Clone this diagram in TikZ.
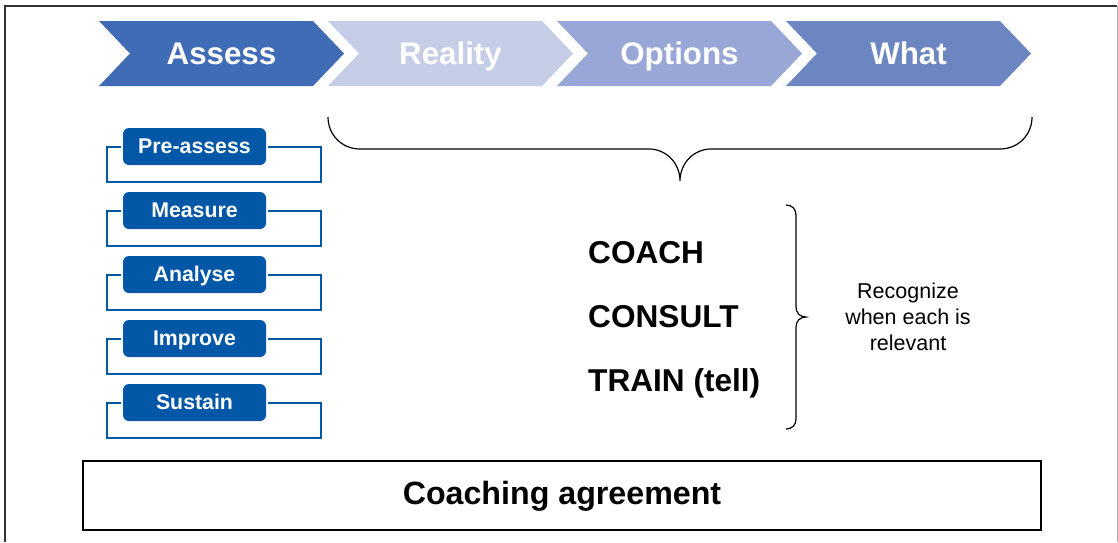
\documentclass[tikz,border=0pt]{standalone}
\usepackage{fontspec}
\setmainfont{Liberation Sans}
\definecolor{cAssess}{HTML}{3F6CB5}
\definecolor{cReality}{HTML}{C6CDE6}
\definecolor{cOptions}{HTML}{98A7D5}
\definecolor{cWhat}{HTML}{6B86C1}
\definecolor{boxblue}{HTML}{0257A6}
\definecolor{framegray}{HTML}{333333}
\tikzset{
  chevtext/.style={text=white, font=\bfseries\fontsize{31.3}{34}\selectfont, anchor=base, inner sep=0pt},
  stepbox/.style={fill=boxblue, rounded corners=6pt, minimum width=143pt, minimum height=37pt, inner sep=0pt,
     text height=16pt, text depth=2pt, text=white, font=\bfseries\fontsize{21.3}{23}\selectfont},
  bracketline/.style={draw=boxblue, line width=2pt},
  bigtext/.style={font=\bfseries\fontsize{31.6}{34}\selectfont, anchor=base west, inner sep=0pt},
  bracestyle/.style={draw=black, line width=1.2pt},
}
\begin{document}
\begin{tikzpicture}[x=1pt,y=-1pt]
\useasboundingbox (0,0) rectangle (1118,542);
% outer frame
\draw[framegray, line width=2pt] (5,542) -- (5,6) -- (1117,6);
\draw[gray!60, line width=1pt] (1117,6) -- (1117,542);
% chevrons
\foreach \i/\c/\t/\n in {0/cAssess/Assess/ch1, 1/cReality/Reality/ch2, 2/cOptions/Options/ch3, 3/cWhat/What/ch4}{
  \pgfmathsetmacro{\xo}{99+229*\i}
  \fill[\c] (\xo,21) -- ++(214,0) -- ++(31,32.5) -- ++(-31,32.5) -- ++(-214,0) -- ++(31,-32.5) -- cycle;
  \node[chevtext] (\n) at (\xo+122.5,64) {\t};
}
% left step boxes with brackets
\foreach \i/\t in {0/Pre-assess, 1/Measure, 2/Analyse, 3/Improve, 4/Sustain}{
  \pgfmathsetmacro{\yc}{146.5+64*\i}
  \node[stepbox] (s\i) at (194.5,\yc) {\t};
  \draw[bracketline] ([xshift=-2pt]s\i.west) -- (107,\yc) -- (107,\yc+35.5) -- (321,\yc+35.5)
     -- (321,\yc) -- ([xshift=2pt]s\i.east);
}
% top brace
\draw[bracestyle] (328,117) .. controls (328,135) and (342,149) .. (360,149) -- (649,149)
  .. controls (666,149) and (680,163) .. (680,181)
  .. controls (680,163) and (694,149) .. (711,149) -- (1000,149)
  .. controls (1018,149) and (1032,135) .. (1032,117);
% texts
\node[bigtext] (coach) at (588,263) {COACH};
\node[bigtext] (consult) at (588,327) {CONSULT};
\node[bigtext] (train) at (588,391) {TRAIN (tell)};
% right brace
\draw[bracestyle] (786,205) .. controls (792,205) and (796,209) .. (796,215) -- (796,307)
  .. controls (796,313) and (800,317) .. (806,317)
  .. controls (800,317) and (796,321) .. (796,327) -- (796,419)
  .. controls (796,425) and (792,429) .. (786,429);
\node[align=center, font=\fontsize{21.5}{26}\selectfont] (recog) at (908,317) {Recognize\\when each is\\relevant};
% coaching agreement
\node[draw=black, line width=2pt, minimum width=958pt, minimum height=69pt, inner sep=0pt,
  text height=24pt, text depth=6pt,
  font=\bfseries\fontsize{32.2}{34}\selectfont] (agree) at (562,495.5) {Coaching agreement};
\end{tikzpicture}
\end{document}
